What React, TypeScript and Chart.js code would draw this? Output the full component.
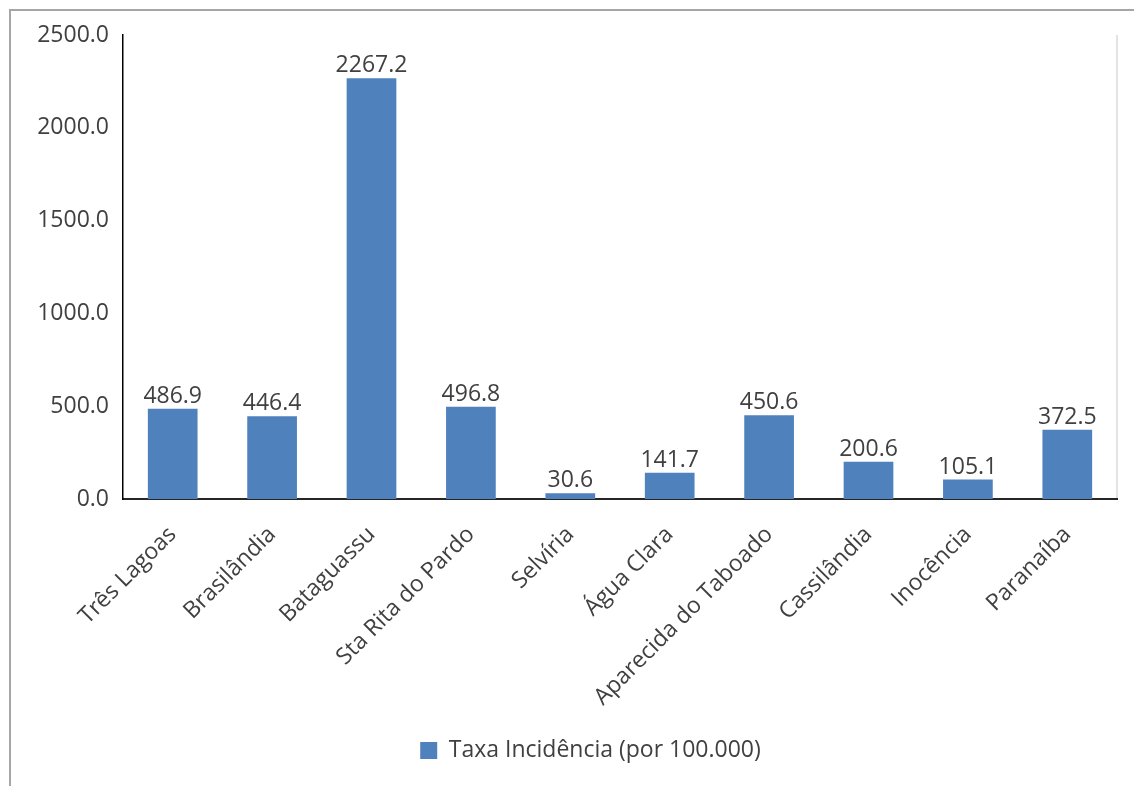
import React, { useEffect, useRef } from "react";
import { Chart, registerables } from "chart.js";

Chart.register(...registerables);

const categories = [
  "Três Lagoas",
  "Brasilândia",
  "Bataguassu",
  "Sta Rita do Pardo",
  "Selvíria",
  "Água Clara",
  "Aparecida do Taboado",
  "Cassilândia",
  "Inocência",
  "Paranaíba",
];
const incidence = [486.9, 446.4, 2267.2, 496.8, 30.6, 141.7, 450.6, 200.6, 105.1, 372.5];
const seriesLabel = "Taxa Incidência (por 100.000)";
const yMin = 0;
const yMax = 2500;
const yStep = 500;

const FONT = '"Open Sans", "DejaVu Sans", sans-serif';
const TEXT = "#404040";
const BAR = "#4f81bd";

const decorPlugin = {
  id: "decor",
  afterLayout(chart: any) {
    const lg = chart.legend;
    if (lg) {
      lg.left += 32;
      lg.right += 32;
    }
  },
  beforeDraw(chart: any) {
    const { ctx, width, height, chartArea } = chart;
    ctx.save();
    ctx.fillStyle = "#ffffff";
    ctx.fillRect(0, 0, width, height);
    ctx.strokeStyle = "#a6a6a6";
    ctx.lineWidth = 2;
    ctx.beginPath();
    ctx.moveTo(10, height);
    ctx.lineTo(10, 10);
    ctx.lineTo(width, 10);
    ctx.stroke();
    ctx.strokeStyle = "#e3e3e3";
    ctx.lineWidth = 2;
    ctx.beginPath();
    ctx.moveTo(chartArea.right, chartArea.top);
    ctx.lineTo(chartArea.right, chartArea.bottom);
    ctx.stroke();
    ctx.restore();
  },
  afterDatasetsDraw(chart: any) {
    const { ctx } = chart;
    const meta = chart.getDatasetMeta(0);
    const data = chart.data.datasets[0].data as number[];
    ctx.save();
    ctx.font = `23px ${FONT}`;
    ctx.fillStyle = TEXT;
    ctx.textAlign = "center";
    ctx.textBaseline = "bottom";
    meta.data.forEach((el: any, i: number) => {
      ctx.fillText(data[i].toFixed(1), el.x, el.y - 1);
    });
    ctx.restore();
  },
};

export default function App() {
  const ref = useRef<HTMLCanvasElement>(null);
  useEffect(() => {
    document.body.style.margin = "0";
    const canvas = ref.current!;
    const chart = new Chart(canvas, {
      type: "bar",
      data: {
        labels: categories,
        datasets: [
          {
            label: seriesLabel,
            data: incidence,
            backgroundColor: BAR,
            borderWidth: 0,
            barPercentage: 0.5,
            categoryPercentage: 1,
          },
        ],
      },
      options: {
        responsive: false,
        animation: false,
        layout: { padding: { top: 35, left: 0, right: 17, bottom: 14 } },
        plugins: {
          tooltip: { enabled: false },
          legend: {
            position: "bottom",
            labels: {
              font: { family: FONT, size: 23 },
              color: TEXT,
              boxWidth: 17,
              boxHeight: 17,
              padding: 10,
            },
          },
        },
        scales: {
          x: {
            grid: { display: false, drawTicks: false },
            border: { display: true, color: "#262626", width: 2 },
            ticks: {
              font: { family: FONT, size: 23 },
              color: TEXT,
              minRotation: 45,
              maxRotation: 45,
              autoSkip: false,
              padding: 22,
            },
            afterFit(scale: any) {
              scale.height = 230;
            },
          },
          y: {
            min: yMin,
            max: yMax,
            grid: { display: false, drawTicks: false },
            border: { display: true, color: "#000000", width: 1.5 },
            ticks: {
              stepSize: yStep,
              font: { family: FONT, size: 23 },
              color: TEXT,
              padding: 14,
              callback: (v: any) => Number(v).toFixed(1),
            },
            afterFit(scale: any) {
              scale.width = 123;
            },
          },
        },
      },
      plugins: [decorPlugin],
    });
    return () => chart.destroy();
  }, []);
  return <canvas ref={ref} width={1134} height={786} style={{ display: "block", width: 1134, height: 786 }} />;
}
